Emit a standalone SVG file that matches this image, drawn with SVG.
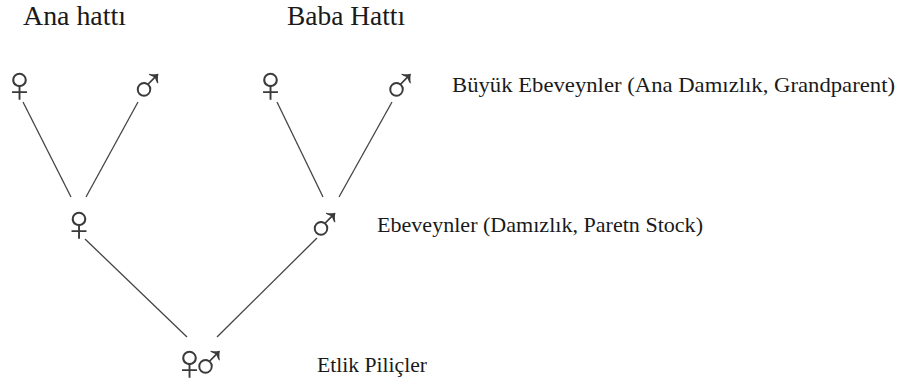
<svg xmlns="http://www.w3.org/2000/svg" width="901" height="385" viewBox="0 0 901 385">
<style>
.t{font-family:"Liberation Serif","Times New Roman",serif;fill:#1a1a1a}
.title{font-size:27px}
.lbl{font-size:22px}
.sym{font-family:"DejaVu Sans",sans-serif;font-weight:200;font-size:52px;fill:#3a3a3a;text-anchor:middle}
.ln{stroke:#444;stroke-width:1.3;fill:none}
</style>
<rect width="901" height="385" fill="#fff"/>
<g id="titles">
<text class="t title" x="23" y="25" textLength="103" lengthAdjust="spacingAndGlyphs">Ana hattı</text>
<text class="t title" x="287" y="25" textLength="118" lengthAdjust="spacingAndGlyphs">Baba Hattı</text>
</g>
<g id="connectors">
<line class="ln" x1="23" y1="102" x2="71" y2="197"/>
<line class="ln" x1="138" y1="102" x2="86" y2="197"/>
<line class="ln" x1="277" y1="102" x2="323" y2="197"/>
<line class="ln" x1="392" y1="102" x2="339" y2="197"/>
<line class="ln" x1="85" y1="239" x2="187" y2="337"/>
<line class="ln" x1="317" y1="238" x2="217" y2="337"/>
</g>
<g id="gp-female-a"><text class="sym" x="19.5" y="102">♀</text></g>
<g id="gp-male-a"><text class="sym" x="147.5" y="103">♂</text></g>
<g id="gp-female-b"><text class="sym" x="270.5" y="102">♀</text></g>
<g id="gp-male-b"><text class="sym" x="400" y="103">♂</text></g>
<g id="ps-female"><text class="sym" x="79" y="241">♀</text></g>
<g id="ps-male"><text class="sym" x="324.5" y="242">♂</text></g>
<g id="broiler"><text class="sym" x="189.5 209" y="380">♀♂</text></g>
<g id="labels">
<text class="t lbl" x="452" y="92" textLength="443" lengthAdjust="spacingAndGlyphs">Büyük Ebeveynler (Ana Damızlık, Grandparent)</text>
<text class="t lbl" x="377" y="232" textLength="326" lengthAdjust="spacingAndGlyphs">Ebeveynler (Damızlık, Paretn Stock)</text>
<text class="t lbl" x="317" y="372" textLength="110" lengthAdjust="spacingAndGlyphs">Etlik Piliçler</text>
</g>
</svg>
